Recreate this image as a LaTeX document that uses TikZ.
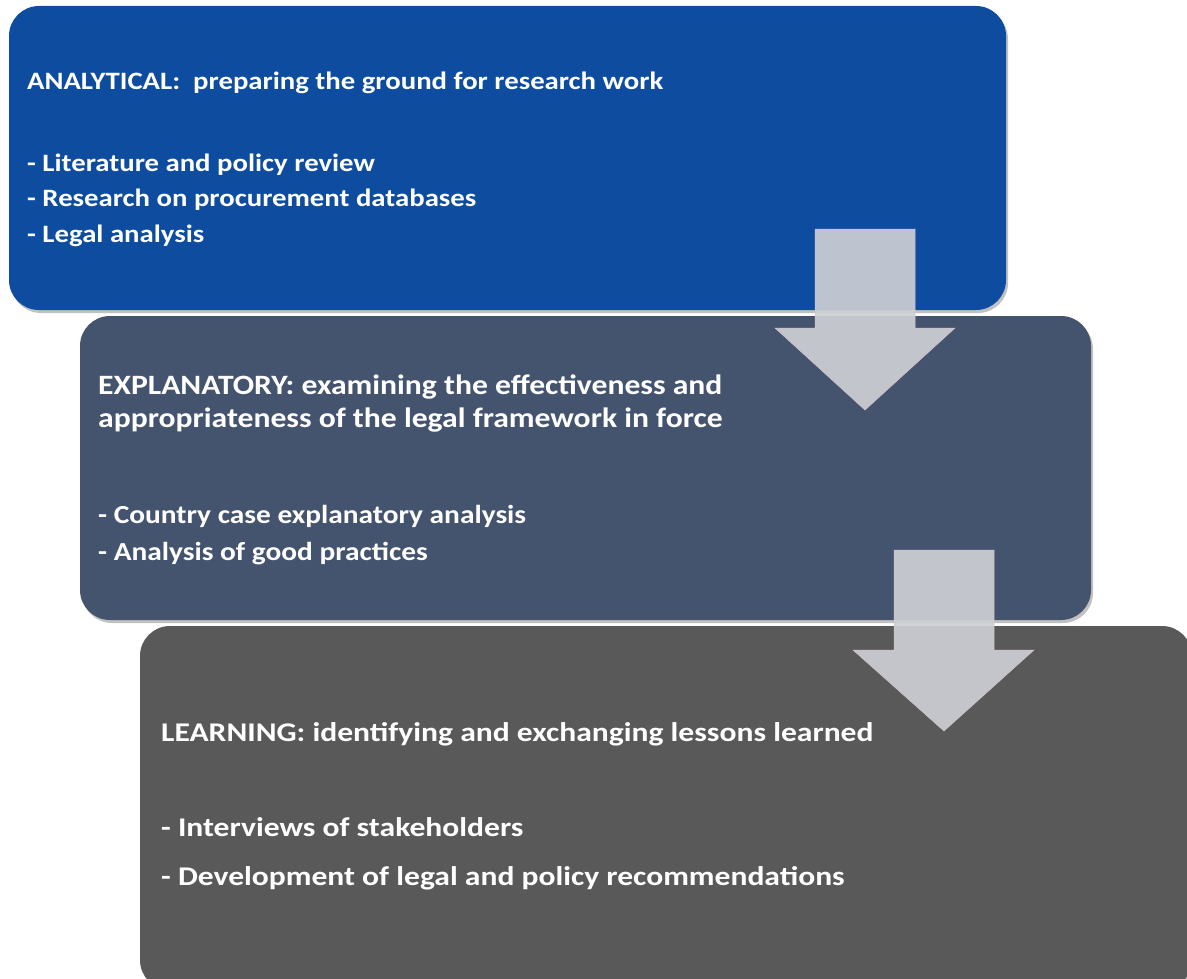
\documentclass[tikz,border=0pt]{standalone}
\usepackage{fontspec}
\setmainfont{Carlito}
\newfontfamily\fontA[FakeStretch=1.15]{Carlito}
\newfontfamily\fontB[FakeStretch=1.13]{Carlito}
\newfontfamily\fontC[FakeStretch=1.17]{Carlito}
\usetikzlibrary{shadows}
\definecolor{boxA}{RGB}{13,76,159}
\definecolor{boxB}{RGB}{68,84,111}
\definecolor{boxC}{RGB}{89,89,89}
\definecolor{arrowfill}{RGB}{205,207,212}
\definecolor{arrowedge}{RGB}{215,195,200}
\tikzset{
  stagebox/.style={rounded corners=30pt, draw=none,
    drop shadow={shadow xshift=2pt, shadow yshift=-3pt, opacity=0.35, fill=black!70}},
  txt/.style={anchor=base west, inner sep=0pt, text=white},
  txtA/.style={txt, font=\fontA\bfseries\fontsize{25}{30}\selectfont},
  txtB/.style={txt, font=\fontB\bfseries\fontsize{28}{33}\selectfont},
  txtBi/.style={txt, font=\fontB\bfseries\fontsize{26}{30}\selectfont},
  txtC/.style={txt, font=\fontC\bfseries\fontsize{27}{33}\selectfont},
  flowarrow/.style={fill=arrowfill, fill opacity=0.92, draw=arrowedge, line width=0.5pt},
}
\begin{document}
\begin{tikzpicture}[x=1pt,y=-1pt]
\useasboundingbox (0,0) rectangle (1187,979);
% boxes
\path[stagebox, fill=boxA] (9,6) rectangle (1006,310);
\path[stagebox, fill=boxB] (80,316) rectangle (1091,620);
\path[stagebox, fill=boxC] (140,626) rectangle (1192,990);
% box 1 text
\node[txtA] (t1) at (27,90) {ANALYTICAL:\ \ preparing the ground for research work};
\node[txtA] (t1a) at (27,172) {- Literature and policy review};
\node[txtA] (t1b) at (27,207) {- Research on procurement databases};
\node[txtA] (t1c) at (27,242) {- Legal analysis};
% box 2 text
\node[txtB] (t2) at (98,394) {EXPLANATORY: examining the effectiveness and};
\node[txtB] (t2b) at (98,427) {appropriateness of the legal framework in force};
\node[txtBi] (t2c) at (98,523) {- Country case explanatory analysis};
\node[txtBi] (t2d) at (98,560) {- Analysis of good practices};
% box 3 text
\node[txtC] (t3) at (161,741) {LEARNING: identifying and exchanging lessons learned};
\node[txtC] (t3a) at (161,836) {- Interviews of stakeholders};
\node[txtC] (t3b) at (161,885) {- Development of legal and policy recommendations};
% arrows
\draw[flowarrow] (815,229) -- (915,229) -- (915,328) -- (955,328) -- (865,410) -- (775,328) -- (815,328) -- cycle;
\draw[flowarrow] (894,550) -- (994,550) -- (994,650) -- (1034,650) -- (944,731) -- (853,650) -- (894,650) -- cycle;
\end{tikzpicture}
\end{document}
